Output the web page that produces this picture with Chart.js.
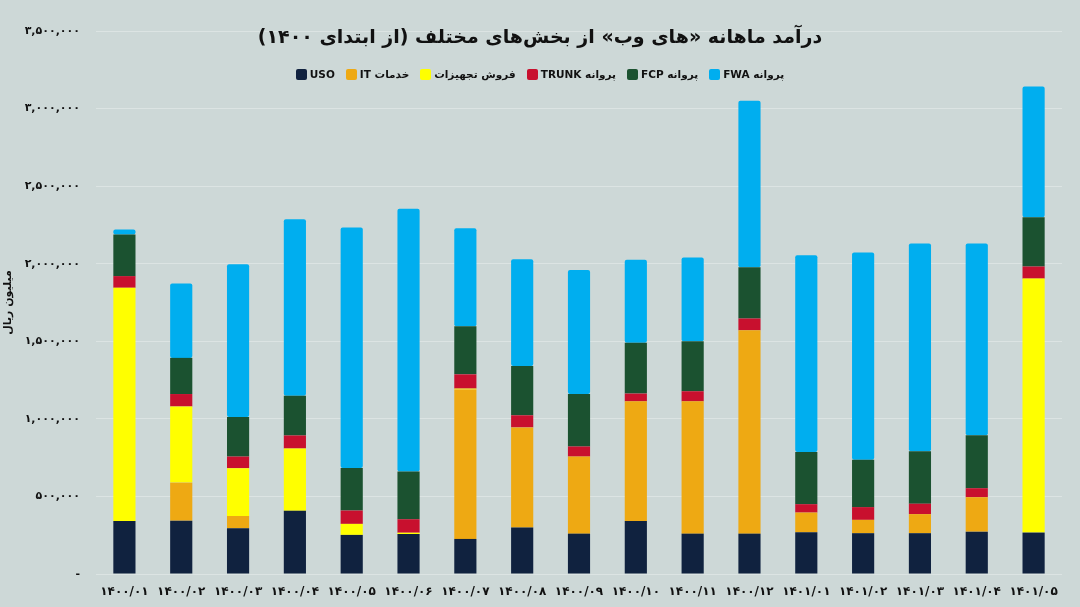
<!DOCTYPE html>
<html lang="fa">
<head>
<meta charset="utf-8">
<script src="https://cdn.jsdelivr.net/npm/chart.js@4.4.0/dist/chart.umd.min.js"></script>
<style>
  html, body { margin: 0; padding: 0; background: #cdd8d7; }
  #wrap { position: relative; width: 1080px; height: 607px; overflow: hidden; }
  #title {
    position: absolute; top: 25px; left: 0; width: 1080px; text-align: center;
    direction: rtl; font-family: 'DejaVu Sans', sans-serif; font-weight: bold;
    font-size: 19px; color: #111;
  }
  #legend {
    position: absolute; top: 68px; left: 0; width: 1080px;
    display: flex; justify-content: center; gap: 11px;
    font-family: 'DejaVu Sans', sans-serif; font-weight: bold; font-size: 10.5px; color: #111;
  }
  #legend span.item { display: flex; align-items: center; gap: 3px; }
  #legend span.box { width: 11px; height: 11px; border-radius: 2px; display: inline-block; }
</style>
</head>
<body>
<div id="wrap">
  <canvas id="chart" width="1080" height="607"></canvas>
  <div id="title">درآمد ماهانه «های وب» از بخش‌های مختلف (از ابتدای ۱۴۰۰)</div>
  <div id="legend"></div>
</div>
<script>
// months (solar hijri)
const months = ['۱۴۰۰/۰۱', '۱۴۰۰/۰۲', '۱۴۰۰/۰۳', '۱۴۰۰/۰۴', '۱۴۰۰/۰۵', '۱۴۰۰/۰۶', '۱۴۰۰/۰۷', '۱۴۰۰/۰۸', '۱۴۰۰/۰۹',
  '۱۴۰۰/۱۰', '۱۴۰۰/۱۱', '۱۴۰۰/۱۲', '۱۴۰۱/۰۱', '۱۴۰۱/۰۲', '۱۴۰۱/۰۳', '۱۴۰۱/۰۴', '۱۴۰۱/۰۵'];

// million rials
const uso   = [342000, 344000, 295000, 407000, 252000, 258000, 226000, 299000, 260000, 342000, 260000, 260000, 269000, 263000, 263000, 273000, 267000];
const itSrv = [0, 245000, 79000, 0, 0, 0, 963000, 646000, 497000, 771000, 853000, 1311000, 127000, 86000, 123000, 222000, 0];
const equip = [1503000, 491000, 308000, 402000, 71000, 8000, 6000, 0, 0, 0, 0, 0, 0, 0, 0, 0, 1637000];
const trunk = [75000, 80000, 75000, 84000, 86000, 87000, 92000, 78000, 65000, 50000, 65000, 76000, 54000, 82000, 67000, 58000, 78000];
const fcp   = [269000, 233000, 255000, 256000, 274000, 307000, 310000, 317000, 339000, 328000, 323000, 331000, 336000, 306000, 338000, 342000, 317000];
const fwa   = [32000, 480000, 984000, 1137000, 1550000, 1695000, 631000, 689000, 798000, 534000, 539000, 1072000, 1268000, 1335000, 1340000, 1236000, 844000];

const seriesNames = ['USO', 'خدمات IT', 'فروش تجهیزات', 'پروانه TRUNK', 'پروانه FCP', 'پروانه FWA'];
const seriesColors = ['#10223f', '#eea913', '#ffff00', '#c8102e', '#1b5230', '#00aeef'];
const seriesData = [uso, itSrv, equip, trunk, fcp, fwa];

const yTicks = [0, 500000, 1000000, 1500000, 2000000, 2500000, 3000000, 3500000];

const faDigits = '۰۱۲۳۴۵۶۷۸۹';
function toFa(n) {
  return n.toLocaleString('en-US').replace(/\d/g, d => faDigits[+d]);
}

// legend as html
const legend = document.getElementById('legend');
seriesNames.forEach((name, i) => {
  const item = document.createElement('span');
  item.className = 'item';
  const box = document.createElement('span');
  box.className = 'box';
  box.style.background = seriesColors[i];
  const txt = document.createElement('span');
  txt.setAttribute('dir', 'rtl');
  txt.textContent = name;
  item.appendChild(box);
  item.appendChild(txt);
  legend.appendChild(item);
});

const font = 'DejaVu Sans';
const datasets = seriesData.map((d, i) => ({
  label: seriesNames[i],
  data: d,
  backgroundColor: seriesColors[i],
  borderRadius: 2,
  borderSkipped: false,
  barPercentage: 0.39,
  categoryPercentage: 1
}));

new Chart(document.getElementById('chart'), {
  type: 'bar',
  data: { labels: months, datasets: datasets },
  options: {
    responsive: false,
    animation: false,
    layout: { padding: { top: 31, right: 18, bottom: 0, left: 0 } },
    plugins: { legend: { display: false }, title: { display: false }, tooltip: { enabled: false } },
    scales: {
      x: {
        stacked: true,
        grid: { display: false, drawTicks: false },
        border: { display: false },
        ticks: { color: '#111', font: { family: font, weight: 'bold', size: 12 }, padding: 11, maxRotation: 0, autoSkip: false },
        afterFit: s => { s.height = 33; }
      },
      y: {
        stacked: true,
        min: 0,
        max: 3500000,
        afterBuildTicks: s => { s.ticks = yTicks.map(v => ({ value: v })); },
        afterFit: s => { s.width = 96; },
        grid: { color: 'rgba(255,255,255,0.3)', drawTicks: false },
        border: { display: false },
        ticks: {
          color: '#111', padding: 16,
          font: { family: font, weight: 'bold', size: 11 },
          callback: v => v === 0 ? '-' : toFa(v)
        },
        title: { display: true, text: 'میلیون ریال', color: '#111', font: { family: font, weight: 'bold', size: 11 }, padding: 2 }
      }
    }
  }
});
</script>
</body>
</html>
